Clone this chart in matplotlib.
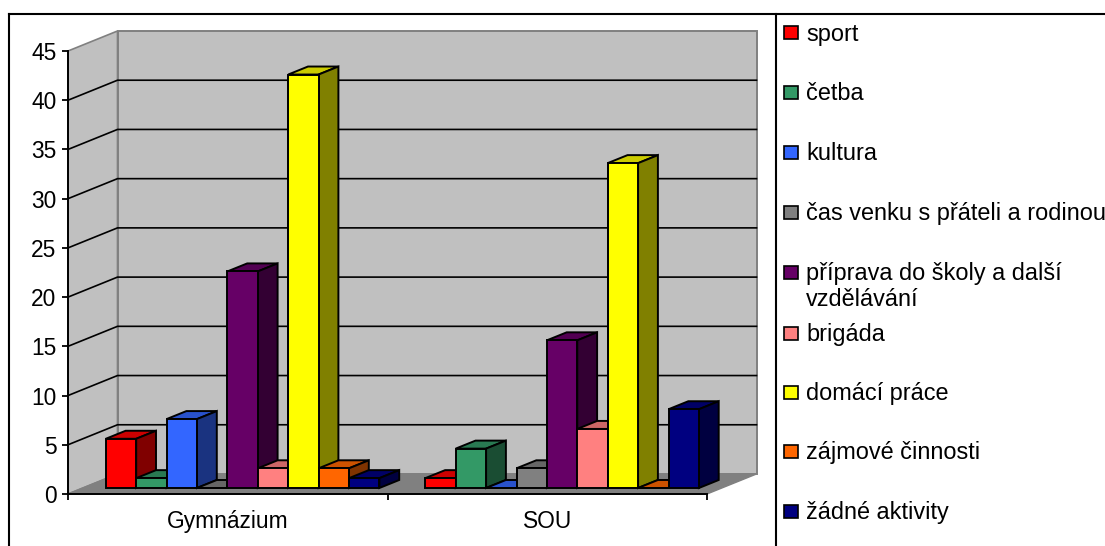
#!/usr/bin/env python3
"""Pseudo 3D clustered bars, drawn on a normal 2D axes with a depth offset"""
import matplotlib
matplotlib.use("Agg")
import matplotlib.pyplot as plt
from matplotlib.colors import to_rgb
from matplotlib.lines import Line2D
from matplotlib.patches import Rectangle

categories = ["Gymnázium", "SOU"]
series_names = ["sport", "četba", "kultura", "čas venku s přáteli a rodinou",
                "příprava do školy a další\nvzdělávání", "brigáda",
                "domácí práce", "zájmové činnosti", "žádné aktivity"]
gymnazium = [5, 1, 7, 0, 22, 2, 42, 2, 1]
sou = [1, 4, 0, 2, 15, 6, 33, 0, 8]
colors = ["#FF0000", "#339966", "#3366FF", "#808080", "#660066",
          "#FF8080", "#FFFF00", "#FF6600", "#000080"]
legend_y = [32.5, 92.5, 152.5, 212, 272, 333, 392, 451, 511]
y_ticks = list(range(0, 50, 5))

W, H = 1105, 546
plt.rcParams["font.family"] = ["Liberation Sans", "DejaVu Sans"]
FONT = 16.4
LEGEND_FONT = 16.9

fig = plt.figure(figsize=(W / 100, H / 100), dpi=100)
ax = fig.add_axes([68 / W, 1 - 494 / H, (707 - 68) / W, (494 - 51) / H])
ax.set_xlim(0, 2)
ax.set_ylim(0, 45)
ax.patch.set_visible(False)

# depth of the chart box, in data units
DX = 49.5 / 319.5
DY = 20 / 9.84
BAR_W = 30.4 / 319.5
FRONT = 0.3  # bars start this far into the box
DEPTH = 0.4  # and are this deep
EDGE = 1.4


def shade(color, k):
    return tuple(c * k for c in to_rgb(color))


# walls and floor
ax.fill([0, DX, DX, 0], [0, DY, 45 + DY, 45], fc="#C0C0C0", ec="#808080", lw=1.2,
        zorder=1, clip_on=False)
ax.fill([DX, 2 + DX, 2 + DX, DX], [DY, DY, 45 + DY, 45 + DY], fc="#C0C0C0", ec="#808080",
        lw=1.4, zorder=1, clip_on=False)
ax.fill([0, 2, 2 + DX, DX], [0, 0, DY, DY], fc="#808080", ec="#808080", lw=1,
        zorder=2, clip_on=False)

# gridlines run along the side wall and the back wall
for t in y_ticks[1:-1]:
    ax.plot([0, DX, 2 + DX], [t, t + DY, t + DY], color="black", lw=1.2, zorder=3,
            clip_on=False, solid_joinstyle="miter")

z = 10
for i, values in enumerate([gymnazium, sou]):
    start = i + 0.5 - 4.5 * BAR_W + FRONT * DX
    base = FRONT * DY
    dx, dy = DEPTH * DX, DEPTH * DY
    for j, v in enumerate(values):
        x0 = start + j * BAR_W
        x1 = x0 + BAR_W
        top = base + v
        # top face, side face, then the front, left to right so neighbours overlap
        ax.fill([x0, x1, x1 + dx, x0 + dx], [top, top, top + dy, top + dy],
                fc=shade(colors[j], 0.8), ec="black", lw=EDGE, zorder=z, clip_on=False)
        ax.fill([x1, x1 + dx, x1 + dx, x1], [base, base + dy, top + dy, top],
                fc=shade(colors[j], 0.5), ec="black", lw=EDGE, zorder=z, clip_on=False)
        ax.bar(x0, v, BAR_W, bottom=base, align="edge", color=colors[j], edgecolor="black",
               linewidth=EDGE, zorder=z + 1, clip_on=False)
        z += 2

for side in ["top", "right"]:
    ax.spines[side].set_visible(False)
for side in ["left", "bottom"]:
    ax.spines[side].set_linewidth(1.4)
    ax.spines[side].set_zorder(5)

ax.set_yticks(y_ticks)
ax.tick_params(axis="y", length=4.3, width=1.3, pad=4, labelsize=FONT)
ax.set_xticks([0, 1, 2])
ax.set_xticklabels([])
ax.tick_params(axis="x", which="major", length=4, width=1.3)
ax.set_xticks([0.5, 1.5], categories, minor=True)
ax.tick_params(axis="x", which="minor", length=0, pad=11.5, labelsize=FONT)

# outer frame: no bottom or right edge in the original
for xs, ys in [((9, W), (14, 14)), ((9, 9), (14, H)), ((776, 776), (14, H))]:
    fig.add_artist(Line2D([x / W for x in xs], [1 - y / H for y in ys], color="black", lw=1.5))

# legend, placed by hand since it spreads over the full height
for name, c, y in zip(series_names, colors, legend_y):
    fig.add_artist(Rectangle((784 / W, 1 - (y + 6.5) / H), 14 / W, 13 / H, fc=c, ec="black",
                             lw=1.2, transform=fig.transFigure))
    lines = name.split("\n")
    for k, line in enumerate(lines):
        fig.text(806 / W, 1 - (y - 1 + k * 26) / H, line, fontsize=LEGEND_FONT,
                 va="center_baseline", ha="left", color="black")

fig.savefig("out.png", dpi=100)
